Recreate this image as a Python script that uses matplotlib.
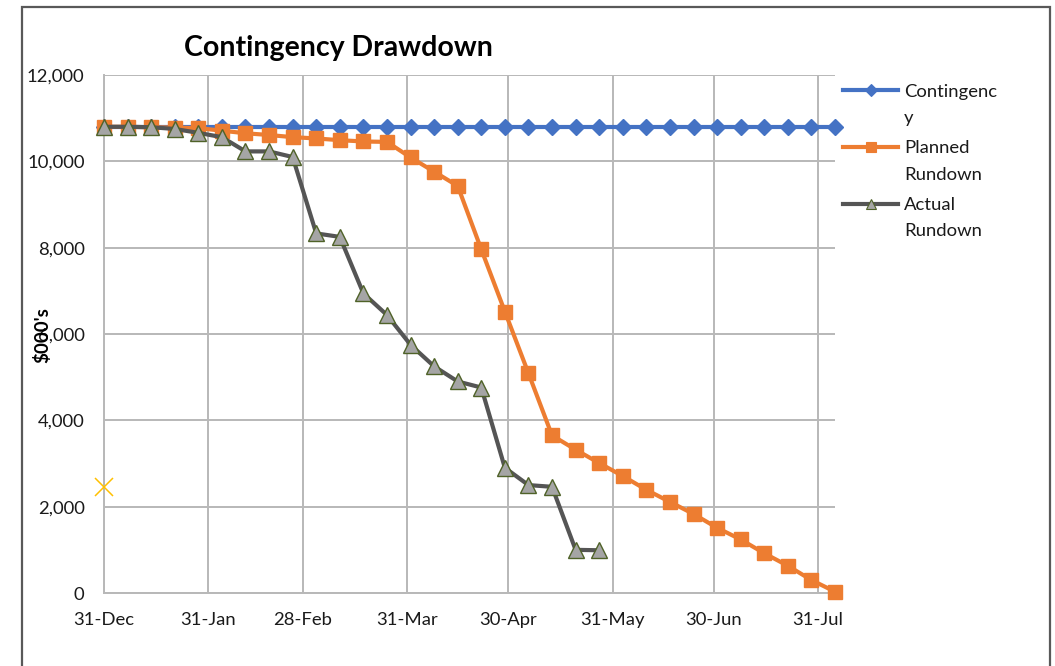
import matplotlib
matplotlib.use("Agg")
import matplotlib.pyplot as plt
import matplotlib.dates as mdates
from matplotlib.lines import Line2D
from matplotlib.patches import Rectangle
import numpy as np

# ---------------- data ----------------
week_dates = ["2017-12-31", "2018-01-07", "2018-01-14", "2018-01-21", "2018-01-28",
              "2018-02-04", "2018-02-11", "2018-02-18", "2018-02-25", "2018-03-04",
              "2018-03-11", "2018-03-18", "2018-03-25", "2018-04-01", "2018-04-08",
              "2018-04-15", "2018-04-22", "2018-04-29", "2018-05-06", "2018-05-13",
              "2018-05-20", "2018-05-27", "2018-06-03", "2018-06-10", "2018-06-17",
              "2018-06-24", "2018-07-01", "2018-07-08", "2018-07-15", "2018-07-22",
              "2018-07-29", "2018-08-05"]

contingency = [10800, 10800, 10800, 10800, 10800, 10800, 10800, 10800, 10800, 10800,
               10800, 10800, 10800, 10800, 10800, 10800, 10800, 10800, 10800, 10800,
               10800, 10800, 10800, 10800, 10800, 10800, 10800, 10800, 10800, 10800,
               10800, 10800]

planned = [10800, 10800, 10790, 10780, 10770, 10710, 10650, 10610, 10560, 10530,
           10490, 10460, 10450, 10090, 9760, 9430, 7960, 6520, 5090, 3650,
           3320, 3010, 2710, 2390, 2110, 1830, 1510, 1240, 920, 630,
           300, 30]

actual = [10800, 10800, 10790, 10750, 10660, 10560, 10230, 10230, 10100, 8330,
          8250, 6940, 6440, 5750, 5250, 4900, 4760, 2900, 2500, 2460,
          1000, 990]

marker_date = ["2017-12-31"]
marker_value = [2460]

tick_dates = ["2017-12-31", "2018-01-31", "2018-02-28", "2018-03-31", "2018-04-30",
              "2018-05-31", "2018-06-30", "2018-07-31"]
y_ticks = [0, 2000, 4000, 6000, 8000, 10000, 12000]

series_names = ["Contingenc\ny", "Planned\nRundown", "Actual\nRundown"]

# ---------------- style ----------------
FONT = "Lato"
plt.rcParams['font.family'] = [FONT, 'DejaVu Sans']
BLUE = "#4472C4"
ORANGE = "#ED7D31"
GREYLINE = "#555555"
TRI_FACE = "#A5A5A5"
TRI_EDGE = "#4F6228"
GRID = "#B8B8B8"
TEXT = "#1a1a1a"

W, H = 1055, 666
fig = plt.figure(figsize=(W / 100, H / 100), dpi=100)

def fx(x):
    return x / W

def fy(y):
    return 1 - y / H

ax = fig.add_axes([fx(104), fy(593), fx(835) - fx(104), fy(75) - fy(593)])

x = mdates.datestr2num(week_dates)
xa = x[:len(actual)]

ax.plot(x, contingency, color=BLUE, lw=3, marker="D", ms=8,
        mfc=BLUE, mec=BLUE, zorder=3, clip_on=False)
ax.plot(x, planned, color=ORANGE, lw=3, marker="s", ms=10.5,
        mfc=ORANGE, mec=ORANGE, zorder=4, clip_on=False)
ax.plot(xa, actual, color=GREYLINE, lw=3, marker="^", ms=11.5,
        mfc=TRI_FACE, mec=TRI_EDGE, mew=1.0, zorder=5, clip_on=False)
ax.plot(mdates.datestr2num(marker_date), marker_value, linestyle="none",
        marker="x", ms=13, mew=1.1, color="#FFC000", zorder=6, clip_on=False)

ax.set_xlim(x[0], x[-1])
ax.set_ylim(0, 12000)

ax.set_xticks(mdates.datestr2num(tick_dates))
ax.xaxis.set_major_formatter(mdates.DateFormatter("%d-%b"))
ax.set_yticks(y_ticks)
ax.set_yticklabels([f"{v:,}" for v in y_ticks])

ax.grid(True, color=GRID, lw=1.4, zorder=0)
ax.set_axisbelow(True)
for s in ["top", "right"]:
    ax.spines[s].set_visible(False)
for s in ["left", "bottom"]:
    ax.spines[s].set_color(GRID)
    ax.spines[s].set_linewidth(1.4)

ax.tick_params(axis="both", length=0, labelsize=13.3, labelcolor=TEXT)
ax.tick_params(axis="y", pad=14)
ax.tick_params(axis="x", pad=14)

# title
fig.text(fx(338), fy(56), "Contingency Drawdown", ha="center", va="baseline",
         fontsize=20.5, fontweight="bold", color="#000000")

# y label (overlaps the 6,000 label as in the reference)
fig.text(fx(42), fy(335), "$000's", rotation=90, ha="center", va="center",
         fontsize=13.5, fontweight="bold", color="#000000")

# legend (manual)
leg_specs = [
    (BLUE, "D", 6, BLUE, BLUE, 90, [97, 123]),
    (ORANGE, "s", 7, ORANGE, ORANGE, 147, [153, 180]),
    (GREYLINE, "^", 7, TRI_FACE, TRI_EDGE, 204, [210, 236]),
]
for (col, mk, msz, mfc, mec, ly, baselines), name in zip(leg_specs, series_names):
    ln = Line2D([fx(843), fx(870.5), fx(898)], [fy(ly)] * 3, transform=fig.transFigure,
                color=col, lw=3, marker=mk, ms=msz, mfc=mfc, mec=mec, mew=0.8,
                markevery=[1])
    fig.add_artist(ln)
    for line_txt, b in zip(name.split("\n"), baselines):
        fig.text(fx(904), fy(b), line_txt, ha="left", va="baseline",
                 fontsize=13.3, color=TEXT)

# chart border
border = Rectangle((fx(22), fy(H + 20)), fx(1050) - fx(22), fy(7) - fy(H + 20),
                   transform=fig.transFigure, fill=False, edgecolor="#595959",
                   lw=1.6, clip_on=False)
fig.add_artist(border)

fig.savefig("out.png", dpi=100)
